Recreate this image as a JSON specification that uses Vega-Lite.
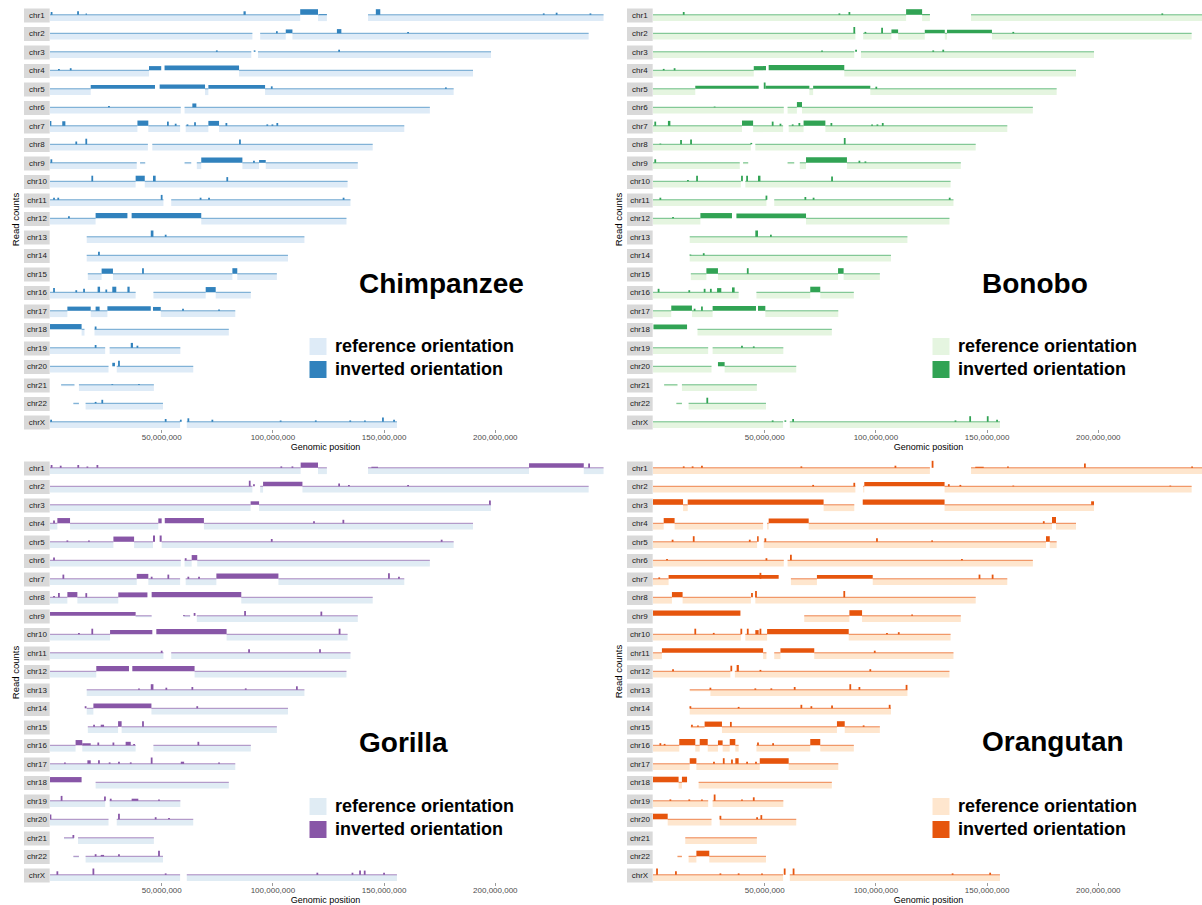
{
"$schema":"https://vega.github.io/schema/vega-lite/v6.json",
"padding":{"left":10,"top":8.5,"right":0,"bottom":0},
"config":{"font":"Liberation Sans","view":{"stroke":null},
 "axisX":{"grid":false,"domain":false,"tickSize":3,"tickColor":"#555","tickWidth":0.6,"labelFontSize":8,"labelColor":"#4d4d4d","labelPadding":1,"titleFontSize":9,"titleFontWeight":"normal","titleColor":"#000","titlePadding":1},
 "header":{"labels":false,"title":"Read counts","titleFontSize":9.5,"titleFontWeight":"normal","titleColor":"#000","titlePadding":-6,"labelPadding":0},
 "legend":{"labelFontSize":18,"labelFontWeight":"bold","labelColor":"#000","labelLimit":0,"symbolType":"square","symbolSize":289,"symbolStrokeWidth":0,"rowPadding":5,"labelOffset":8}},
"datasets":{"d":[
{"p":"C","c":"chr1","t":"r","s":0,"e":112.5,"v":-0.9},{"p":"C","c":"chr1","t":"r","s":120.5,"e":124.5,"v":-0.9},{"p":"C","c":"chr1","t":"r","s":143,"e":248.9,"v":-0.9},
{"p":"C","c":"chr2","t":"r","s":0,"e":91,"v":-0.9},{"p":"C","c":"chr2","t":"r","s":94.5,"e":106,"v":-0.9},{"p":"C","c":"chr2","t":"r","s":109,"e":242.2,"v":-0.9},
{"p":"C","c":"chr3","t":"r","s":0,"e":90.5,"v":-0.9},{"p":"C","c":"chr3","t":"r","s":93.5,"e":198.3,"v":-0.9},
{"p":"C","c":"chr4","t":"r","s":0,"e":44.5,"v":-0.9},{"p":"C","c":"chr4","t":"r","s":85,"e":190.2,"v":-0.9},
{"p":"C","c":"chr5","t":"r","s":0,"e":18.3,"v":-0.9},{"p":"C","c":"chr5","t":"r","s":69.7,"e":71.2,"v":-0.9},{"p":"C","c":"chr5","t":"r","s":96.7,"e":181.5,"v":-0.9},
{"p":"C","c":"chr6","t":"r","s":0,"e":58.8,"v":-0.9},{"p":"C","c":"chr6","t":"r","s":60.5,"e":170.8,"v":-0.9},
{"p":"C","c":"chr7","t":"r","s":0,"e":39.3,"v":-0.9},{"p":"C","c":"chr7","t":"r","s":44.2,"e":58.5,"v":-0.9},{"p":"C","c":"chr7","t":"r","s":61,"e":71.2,"v":-0.9},{"p":"C","c":"chr7","t":"r","s":76,"e":159.3,"v":-0.9},
{"p":"C","c":"chr8","t":"r","s":0,"e":44,"v":-0.9},{"p":"C","c":"chr8","t":"r","s":46,"e":145.1,"v":-0.9},
{"p":"C","c":"chr9","t":"r","s":0,"e":39,"v":-0.9},{"p":"C","c":"chr9","t":"r","s":40.5,"e":42.8,"v":-0.2},{"p":"C","c":"chr9","t":"r","s":60.5,"e":63.5,"v":-0.2},{"p":"C","c":"chr9","t":"r","s":66,"e":68,"v":-0.9},{"p":"C","c":"chr9","t":"r","s":86.5,"e":94,"v":-0.9},{"p":"C","c":"chr9","t":"r","s":97,"e":138.4,"v":-0.9},
{"p":"C","c":"chr10","t":"r","s":0,"e":38.5,"v":-0.9},{"p":"C","c":"chr10","t":"r","s":42.6,"e":133.8,"v":-0.9},
{"p":"C","c":"chr11","t":"r","s":0,"e":51,"v":-0.9},{"p":"C","c":"chr11","t":"r","s":54.5,"e":135.1,"v":-0.9},
{"p":"C","c":"chr12","t":"r","s":0,"e":20.5,"v":-0.9},{"p":"C","c":"chr12","t":"r","s":68,"e":133.3,"v":-0.9},
{"p":"C","c":"chr13","t":"r","s":16.5,"e":114.4,"v":-0.9},
{"p":"C","c":"chr14","t":"r","s":16.5,"e":107,"v":-0.9},
{"p":"C","c":"chr15","t":"r","s":17,"e":23.2,"v":-0.9},{"p":"C","c":"chr15","t":"r","s":28.3,"e":82,"v":-0.9},{"p":"C","c":"chr15","t":"r","s":84.2,"e":102,"v":-0.9},
{"p":"C","c":"chr16","t":"r","s":0,"e":38.5,"v":-0.9},{"p":"C","c":"chr16","t":"r","s":46.5,"e":70,"v":-0.9},{"p":"C","c":"chr16","t":"r","s":74.5,"e":90.3,"v":-0.9},
{"p":"C","c":"chr17","t":"r","s":0,"e":7.8,"v":-0.9},{"p":"C","c":"chr17","t":"r","s":18.3,"e":25.8,"v":-0.9},{"p":"C","c":"chr17","t":"r","s":49.8,"e":83.3,"v":-0.9},
{"p":"C","c":"chr18","t":"r","s":14.2,"e":15.5,"v":-0.9},{"p":"C","c":"chr18","t":"r","s":20,"e":80.4,"v":-0.9},
{"p":"C","c":"chr19","t":"r","s":0,"e":24.8,"v":-0.9},{"p":"C","c":"chr19","t":"r","s":26.8,"e":58.6,"v":-0.9},
{"p":"C","c":"chr20","t":"r","s":0,"e":26.3,"v":-0.9},{"p":"C","c":"chr20","t":"r","s":30,"e":64.4,"v":-0.9},
{"p":"C","c":"chr21","t":"r","s":5,"e":11,"v":-0.2},{"p":"C","c":"chr21","t":"r","s":13,"e":46.7,"v":-0.9},
{"p":"C","c":"chr22","t":"r","s":10.5,"e":13,"v":-0.2},{"p":"C","c":"chr22","t":"r","s":16,"e":50.8,"v":-0.9},
{"p":"C","c":"chrX","t":"r","s":0,"e":58.5,"v":-0.9},{"p":"C","c":"chrX","t":"r","s":61.5,"e":156,"v":-0.9},
{"p":"C","c":"chr1","t":"i","s":0.3,"e":1.1,"v":0.4},{"p":"C","c":"chr1","t":"i","s":12.2,"e":13,"v":0.5},{"p":"C","c":"chr1","t":"i","s":16,"e":16.6,"v":0.2},{"p":"C","c":"chr1","t":"i","s":87,"e":88,"v":0.5},{"p":"C","c":"chr1","t":"i","s":112.5,"e":120.5,"v":0.8},{"p":"C","c":"chr1","t":"i","s":121,"e":124.5,"v":0.1},{"p":"C","c":"chr1","t":"i","s":146.5,"e":148.5,"v":0.8},{"p":"C","c":"chr1","t":"i","s":221.6,"e":222.4,"v":0.2},{"p":"C","c":"chr1","t":"i","s":227.4,"e":228.2,"v":0.3},{"p":"C","c":"chr1","t":"i","s":242.6,"e":243.4,"v":0.2},
{"p":"C","c":"chr2","t":"i","s":101.6,"e":102.4,"v":0.3},{"p":"C","c":"chr2","t":"i","s":106,"e":109,"v":0.55},{"p":"C","c":"chr2","t":"i","s":129,"e":131,"v":0.6},{"p":"C","c":"chr2","t":"i","s":160.6,"e":161.4,"v":0.2},
{"p":"C","c":"chr3","t":"i","s":74.6,"e":75.4,"v":0.2},{"p":"C","c":"chr3","t":"i","s":91.6,"e":92.4,"v":0.2},{"p":"C","c":"chr3","t":"i","s":129.6,"e":130.4,"v":0.3},
{"p":"C","c":"chr4","t":"i","s":3.6,"e":4.4,"v":0.2},{"p":"C","c":"chr4","t":"i","s":8.9,"e":9.7,"v":0.3},{"p":"C","c":"chr4","t":"i","s":44.5,"e":50,"v":0.6},{"p":"C","c":"chr4","t":"i","s":51.5,"e":85,"v":0.7},
{"p":"C","c":"chr5","t":"i","s":18.3,"e":47.2,"v":0.55},{"p":"C","c":"chr5","t":"i","s":49.3,"e":69.7,"v":0.6},{"p":"C","c":"chr5","t":"i","s":71.2,"e":96.7,"v":0.55},{"p":"C","c":"chr5","t":"i","s":99.3,"e":100.1,"v":0.35},{"p":"C","c":"chr5","t":"i","s":177.6,"e":178.4,"v":0.2},
{"p":"C","c":"chr6","t":"i","s":26.1,"e":26.9,"v":0.2},{"p":"C","c":"chr6","t":"i","s":64,"e":65.8,"v":0.55},
{"p":"C","c":"chr7","t":"i","s":0,"e":0.6,"v":0.7},{"p":"C","c":"chr7","t":"i","s":5.5,"e":6.9,"v":0.65},{"p":"C","c":"chr7","t":"i","s":39.3,"e":44.2,"v":0.75},{"p":"C","c":"chr7","t":"i","s":52.6,"e":53.4,"v":0.6},{"p":"C","c":"chr7","t":"i","s":56.1,"e":56.9,"v":0.3},{"p":"C","c":"chr7","t":"i","s":61.4,"e":62.2,"v":0.2},{"p":"C","c":"chr7","t":"i","s":64.8,"e":65.6,"v":0.5},{"p":"C","c":"chr7","t":"i","s":71.2,"e":76,"v":0.7},{"p":"C","c":"chr7","t":"i","s":78.9,"e":79.7,"v":0.4},{"p":"C","c":"chr7","t":"i","s":97.3,"e":98.1,"v":0.2},{"p":"C","c":"chr7","t":"i","s":99.6,"e":100.4,"v":0.2},{"p":"C","c":"chr7","t":"i","s":101.8,"e":102.6,"v":0.4},
{"p":"C","c":"chr8","t":"i","s":11.4,"e":12.2,"v":0.4},{"p":"C","c":"chr8","t":"i","s":15.9,"e":16.7,"v":0.8},{"p":"C","c":"chr8","t":"i","s":85,"e":85.8,"v":0.7},
{"p":"C","c":"chr9","t":"i","s":0.2,"e":1,"v":0.5},{"p":"C","c":"chr9","t":"i","s":68,"e":86.5,"v":0.75},{"p":"C","c":"chr9","t":"i","s":91.3,"e":92.1,"v":0.3},{"p":"C","c":"chr9","t":"i","s":94,"e":97,"v":0.4},
{"p":"C","c":"chr10","t":"i","s":18.6,"e":19.4,"v":0.8},{"p":"C","c":"chr10","t":"i","s":38.5,"e":42.6,"v":0.8},{"p":"C","c":"chr10","t":"i","s":46.3,"e":47.5,"v":0.8},{"p":"C","c":"chr10","t":"i","s":79.3,"e":80.1,"v":0.6},
{"p":"C","c":"chr11","t":"i","s":1.4,"e":2.2,"v":0.3},{"p":"C","c":"chr11","t":"i","s":3.3,"e":4.1,"v":0.3},{"p":"C","c":"chr11","t":"i","s":49.8,"e":50.6,"v":0.7},{"p":"C","c":"chr11","t":"i","s":67.3,"e":68.1,"v":0.3},{"p":"C","c":"chr11","t":"i","s":71.1,"e":71.9,"v":0.3},{"p":"C","c":"chr11","t":"i","s":131.6,"e":132.4,"v":0.3},
{"p":"C","c":"chr12","t":"i","s":8.1,"e":8.9,"v":0.3},{"p":"C","c":"chr12","t":"i","s":20.5,"e":34.8,"v":0.75},{"p":"C","c":"chr12","t":"i","s":36.7,"e":68,"v":0.75},
{"p":"C","c":"chr13","t":"i","s":45.3,"e":46.5,"v":0.9},{"p":"C","c":"chr13","t":"i","s":51.6,"e":52.4,"v":0.3},
{"p":"C","c":"chr14","t":"i","s":21.6,"e":22.4,"v":0.5},
{"p":"C","c":"chr15","t":"i","s":23.2,"e":28.3,"v":0.75},{"p":"C","c":"chr15","t":"i","s":41.4,"e":42.2,"v":0.8},{"p":"C","c":"chr15","t":"i","s":82,"e":84.2,"v":0.8},
{"p":"C","c":"chr16","t":"i","s":1.4,"e":2.2,"v":0.6},{"p":"C","c":"chr16","t":"i","s":11.4,"e":12.2,"v":0.3},{"p":"C","c":"chr16","t":"i","s":14.9,"e":15.7,"v":0.5},{"p":"C","c":"chr16","t":"i","s":21.4,"e":22.5,"v":0.8},{"p":"C","c":"chr16","t":"i","s":24.9,"e":25.7,"v":0.4},{"p":"C","c":"chr16","t":"i","s":28,"e":29.8,"v":0.8},{"p":"C","c":"chr16","t":"i","s":34.8,"e":35.8,"v":0.8},{"p":"C","c":"chr16","t":"i","s":70,"e":74.5,"v":0.75},
{"p":"C","c":"chr17","t":"i","s":7.8,"e":18.3,"v":0.6},{"p":"C","c":"chr17","t":"i","s":20.5,"e":22.3,"v":0.6},{"p":"C","c":"chr17","t":"i","s":25.8,"e":45.3,"v":0.65},{"p":"C","c":"chr17","t":"i","s":46.3,"e":49.8,"v":0.55},{"p":"C","c":"chr17","t":"i","s":59.4,"e":60.2,"v":0.3},{"p":"C","c":"chr17","t":"i","s":75.6,"e":76.4,"v":0.2},
{"p":"C","c":"chr18","t":"i","s":0,"e":14.2,"v":0.75},{"p":"C","c":"chr18","t":"i","s":20.1,"e":20.9,"v":0.4},
{"p":"C","c":"chr19","t":"i","s":20.1,"e":20.9,"v":0.4},{"p":"C","c":"chr19","t":"i","s":36.3,"e":37.3,"v":0.7},{"p":"C","c":"chr19","t":"i","s":38.9,"e":39.7,"v":0.3},
{"p":"C","c":"chr20","t":"i","s":28,"e":29.2,"v":0.5},{"p":"C","c":"chr20","t":"i","s":30.6,"e":31.4,"v":0.8},
{"p":"C","c":"chr21","t":"i","s":27.6,"e":28.4,"v":0.1},{"p":"C","c":"chr21","t":"i","s":39.6,"e":40.4,"v":0.1},
{"p":"C","c":"chr22","t":"i","s":20.1,"e":20.9,"v":0.2},{"p":"C","c":"chr22","t":"i","s":23.1,"e":23.9,"v":0.5},
{"p":"C","c":"chrX","t":"i","s":0.1,"e":0.9,"v":0.3},{"p":"C","c":"chrX","t":"i","s":51.6,"e":52.4,"v":0.4},{"p":"C","c":"chrX","t":"i","s":58.4,"e":59.2,"v":0.3},{"p":"C","c":"chrX","t":"i","s":61.8,"e":62.6,"v":0.5},{"p":"C","c":"chrX","t":"i","s":72.6,"e":73.4,"v":0.3},{"p":"C","c":"chrX","t":"i","s":103.3,"e":104.1,"v":0.2},{"p":"C","c":"chrX","t":"i","s":119.1,"e":119.9,"v":0.2},{"p":"C","c":"chrX","t":"i","s":134.6,"e":135.4,"v":0.2},{"p":"C","c":"chrX","t":"i","s":141.2,"e":142,"v":0.2},{"p":"C","c":"chrX","t":"i","s":149.3,"e":150.1,"v":0.6},{"p":"C","c":"chrX","t":"i","s":154.3,"e":155.1,"v":0.3},

{"p":"B","c":"chr1","t":"r","s":0,"e":113.8,"v":-0.9},{"p":"B","c":"chr1","t":"r","s":121,"e":124.5,"v":-0.9},{"p":"B","c":"chr1","t":"r","s":143,"e":248.9,"v":-0.9},
{"p":"B","c":"chr2","t":"r","s":0,"e":91,"v":-0.9},{"p":"B","c":"chr2","t":"r","s":94.5,"e":107.2,"v":-0.9},{"p":"B","c":"chr2","t":"r","s":110.2,"e":122.2,"v":-0.9},{"p":"B","c":"chr2","t":"r","s":131.2,"e":132.2,"v":-0.9},{"p":"B","c":"chr2","t":"r","s":152.4,"e":242.2,"v":-0.9},
{"p":"B","c":"chr3","t":"r","s":0,"e":90.5,"v":-0.9},{"p":"B","c":"chr3","t":"r","s":93.5,"e":198.3,"v":-0.9},
{"p":"B","c":"chr4","t":"r","s":0,"e":45.3,"v":-0.9},{"p":"B","c":"chr4","t":"r","s":86,"e":190.2,"v":-0.9},
{"p":"B","c":"chr5","t":"r","s":0,"e":19,"v":-0.9},{"p":"B","c":"chr5","t":"r","s":70.3,"e":72,"v":-0.9},{"p":"B","c":"chr5","t":"r","s":97.7,"e":181.5,"v":-0.9},
{"p":"B","c":"chr6","t":"r","s":0,"e":58.8,"v":-0.9},{"p":"B","c":"chr6","t":"r","s":60.5,"e":64.7,"v":-0.9},{"p":"B","c":"chr6","t":"r","s":67,"e":170.8,"v":-0.9},
{"p":"B","c":"chr7","t":"r","s":0,"e":40,"v":-0.9},{"p":"B","c":"chr7","t":"r","s":45,"e":58.5,"v":-0.9},{"p":"B","c":"chr7","t":"r","s":61,"e":67.7,"v":-0.9},{"p":"B","c":"chr7","t":"r","s":77.5,"e":159.3,"v":-0.9},
{"p":"B","c":"chr8","t":"r","s":0,"e":44,"v":-0.9},{"p":"B","c":"chr8","t":"r","s":46,"e":145.1,"v":-0.9},
{"p":"B","c":"chr9","t":"r","s":0,"e":39,"v":-0.9},{"p":"B","c":"chr9","t":"r","s":40.5,"e":42.8,"v":-0.2},{"p":"B","c":"chr9","t":"r","s":60.5,"e":63.5,"v":-0.2},{"p":"B","c":"chr9","t":"r","s":66,"e":68.8,"v":-0.9},{"p":"B","c":"chr9","t":"r","s":87.2,"e":138.4,"v":-0.9},
{"p":"B","c":"chr10","t":"r","s":0,"e":39.5,"v":-0.9},{"p":"B","c":"chr10","t":"r","s":41.5,"e":133.8,"v":-0.9},
{"p":"B","c":"chr11","t":"r","s":0,"e":51,"v":-0.9},{"p":"B","c":"chr11","t":"r","s":54.5,"e":135.1,"v":-0.9},
{"p":"B","c":"chr12","t":"r","s":0,"e":21.3,"v":-0.9},{"p":"B","c":"chr12","t":"r","s":68.8,"e":133.3,"v":-0.9},
{"p":"B","c":"chr13","t":"r","s":16.5,"e":114.4,"v":-0.9},
{"p":"B","c":"chr14","t":"r","s":16.5,"e":107,"v":-0.9},
{"p":"B","c":"chr15","t":"r","s":17,"e":24,"v":-0.9},{"p":"B","c":"chr15","t":"r","s":29.2,"e":83.2,"v":-0.9},{"p":"B","c":"chr15","t":"r","s":85.7,"e":102,"v":-0.9},
{"p":"B","c":"chr16","t":"r","s":0,"e":38.5,"v":-0.9},{"p":"B","c":"chr16","t":"r","s":46.5,"e":70.7,"v":-0.9},{"p":"B","c":"chr16","t":"r","s":75.2,"e":90.3,"v":-0.9},
{"p":"B","c":"chr17","t":"r","s":0,"e":8.2,"v":-0.9},{"p":"B","c":"chr17","t":"r","s":17.5,"e":26.8,"v":-0.9},{"p":"B","c":"chr17","t":"r","s":50.5,"e":83.3,"v":-0.9},
{"p":"B","c":"chr18","t":"r","s":20,"e":80.4,"v":-0.9},
{"p":"B","c":"chr19","t":"r","s":0,"e":24.8,"v":-0.9},{"p":"B","c":"chr19","t":"r","s":26.8,"e":58.6,"v":-0.9},
{"p":"B","c":"chr20","t":"r","s":0,"e":26.3,"v":-0.9},{"p":"B","c":"chr20","t":"r","s":32.2,"e":64.4,"v":-0.9},
{"p":"B","c":"chr21","t":"r","s":5,"e":11,"v":-0.2},{"p":"B","c":"chr21","t":"r","s":13,"e":46.7,"v":-0.9},
{"p":"B","c":"chr22","t":"r","s":10.5,"e":13,"v":-0.2},{"p":"B","c":"chr22","t":"r","s":16,"e":50.8,"v":-0.9},
{"p":"B","c":"chrX","t":"r","s":0,"e":58.5,"v":-0.9},{"p":"B","c":"chrX","t":"r","s":61.5,"e":156,"v":-0.9},
{"p":"B","c":"chr1","t":"i","s":13.4,"e":14.2,"v":0.4},{"p":"B","c":"chr1","t":"i","s":83.4,"e":84.2,"v":0.2},{"p":"B","c":"chr1","t":"i","s":87.9,"e":88.7,"v":0.4},{"p":"B","c":"chr1","t":"i","s":113.8,"e":121,"v":0.8},{"p":"B","c":"chr1","t":"i","s":121,"e":124.5,"v":0.1},{"p":"B","c":"chr1","t":"i","s":228.6,"e":229.4,"v":0.2},
{"p":"B","c":"chr2","t":"i","s":90.1,"e":90.9,"v":0.9},{"p":"B","c":"chr2","t":"i","s":95.1,"e":95.9,"v":0.2},{"p":"B","c":"chr2","t":"i","s":102.6,"e":103.4,"v":0.8},{"p":"B","c":"chr2","t":"i","s":107.2,"e":110.2,"v":0.55},{"p":"B","c":"chr2","t":"i","s":122.2,"e":131.2,"v":0.5},{"p":"B","c":"chr2","t":"i","s":132.2,"e":152.4,"v":0.5},{"p":"B","c":"chr2","t":"i","s":161.6,"e":162.4,"v":0.2},
{"p":"B","c":"chr3","t":"i","s":75.6,"e":76.4,"v":0.2},{"p":"B","c":"chr3","t":"i","s":90.9,"e":91.7,"v":0.3},{"p":"B","c":"chr3","t":"i","s":125.6,"e":126.4,"v":0.2},{"p":"B","c":"chr3","t":"i","s":130.1,"e":130.9,"v":0.3},
{"p":"B","c":"chr4","t":"i","s":4.4,"e":5.2,"v":0.2},{"p":"B","c":"chr4","t":"i","s":9.3,"e":10.1,"v":0.3},{"p":"B","c":"chr4","t":"i","s":45.3,"e":50.8,"v":0.6},{"p":"B","c":"chr4","t":"i","s":52,"e":86,"v":0.75},
{"p":"B","c":"chr5","t":"i","s":19,"e":47.5,"v":0.45},{"p":"B","c":"chr5","t":"i","s":49.8,"e":50.6,"v":0.9},{"p":"B","c":"chr5","t":"i","s":50.6,"e":70.3,"v":0.45},{"p":"B","c":"chr5","t":"i","s":72,"e":97.7,"v":0.45},{"p":"B","c":"chr5","t":"i","s":100,"e":100.8,"v":0.3},
{"p":"B","c":"chr6","t":"i","s":27.3,"e":28.1,"v":0.1},{"p":"B","c":"chr6","t":"i","s":64.7,"e":67,"v":0.75},
{"p":"B","c":"chr7","t":"i","s":0.6,"e":1.4,"v":0.6},{"p":"B","c":"chr7","t":"i","s":6.7,"e":7.8,"v":0.7},{"p":"B","c":"chr7","t":"i","s":40,"e":45,"v":0.75},{"p":"B","c":"chr7","t":"i","s":53.4,"e":54.2,"v":0.6},{"p":"B","c":"chr7","t":"i","s":56.9,"e":57.7,"v":0.3},{"p":"B","c":"chr7","t":"i","s":62.4,"e":63.2,"v":0.2},{"p":"B","c":"chr7","t":"i","s":65.4,"e":66.2,"v":0.4},{"p":"B","c":"chr7","t":"i","s":67.7,"e":77.5,"v":0.75},{"p":"B","c":"chr7","t":"i","s":79.8,"e":80.6,"v":0.4},{"p":"B","c":"chr7","t":"i","s":98.1,"e":98.9,"v":0.2},{"p":"B","c":"chr7","t":"i","s":100.5,"e":101.3,"v":0.2},{"p":"B","c":"chr7","t":"i","s":102.9,"e":103.7,"v":0.4},
{"p":"B","c":"chr8","t":"i","s":2.9,"e":3.7,"v":0.1},{"p":"B","c":"chr8","t":"i","s":12.2,"e":13,"v":0.6},{"p":"B","c":"chr8","t":"i","s":16.7,"e":17.5,"v":0.7},{"p":"B","c":"chr8","t":"i","s":43.8,"e":44.6,"v":0.2},{"p":"B","c":"chr8","t":"i","s":85.8,"e":86.6,"v":0.9},
{"p":"B","c":"chr9","t":"i","s":0.6,"e":1.4,"v":0.5},{"p":"B","c":"chr9","t":"i","s":68.8,"e":87.2,"v":0.8},{"p":"B","c":"chr9","t":"i","s":92.4,"e":93.2,"v":0.3},{"p":"B","c":"chr9","t":"i","s":95.1,"e":95.9,"v":0.2},
{"p":"B","c":"chr10","t":"i","s":15.3,"e":16.1,"v":0.2},{"p":"B","c":"chr10","t":"i","s":19.4,"e":20.2,"v":0.8},{"p":"B","c":"chr10","t":"i","s":39.6,"e":40.4,"v":0.8},{"p":"B","c":"chr10","t":"i","s":41.9,"e":42.7,"v":0.8},{"p":"B","c":"chr10","t":"i","s":47.2,"e":48.3,"v":0.8},{"p":"B","c":"chr10","t":"i","s":80.1,"e":80.9,"v":0.7},
{"p":"B","c":"chr11","t":"i","s":2.9,"e":3.7,"v":0.3},{"p":"B","c":"chr11","t":"i","s":50.6,"e":51.4,"v":0.6},{"p":"B","c":"chr11","t":"i","s":68.1,"e":68.9,"v":0.4},{"p":"B","c":"chr11","t":"i","s":71.8,"e":72.6,"v":0.3},{"p":"B","c":"chr11","t":"i","s":133,"e":133.8,"v":0.3},
{"p":"B","c":"chr12","t":"i","s":8.6,"e":9.4,"v":0.2},{"p":"B","c":"chr12","t":"i","s":21.3,"e":35.5,"v":0.75},{"p":"B","c":"chr12","t":"i","s":37.5,"e":68.8,"v":0.7},
{"p":"B","c":"chr13","t":"i","s":46,"e":47.2,"v":0.9},{"p":"B","c":"chr13","t":"i","s":52.6,"e":53.4,"v":0.3},
{"p":"B","c":"chr14","t":"i","s":16.4,"e":17.2,"v":0.1},{"p":"B","c":"chr14","t":"i","s":22.4,"e":23.2,"v":0.3},
{"p":"B","c":"chr15","t":"i","s":24,"e":29.2,"v":0.8},{"p":"B","c":"chr15","t":"i","s":42.2,"e":43,"v":0.8},{"p":"B","c":"chr15","t":"i","s":83.2,"e":85.7,"v":0.8},
{"p":"B","c":"chr16","t":"i","s":2.1,"e":2.9,"v":0.5},{"p":"B","c":"chr16","t":"i","s":15.9,"e":16.7,"v":0.3},{"p":"B","c":"chr16","t":"i","s":22.8,"e":23.6,"v":0.5},{"p":"B","c":"chr16","t":"i","s":25.6,"e":26.4,"v":0.5},{"p":"B","c":"chr16","t":"i","s":28.8,"e":30.7,"v":0.6},{"p":"B","c":"chr16","t":"i","s":35.5,"e":36.7,"v":0.7},{"p":"B","c":"chr16","t":"i","s":70.7,"e":75.2,"v":0.8},
{"p":"B","c":"chr17","t":"i","s":8.2,"e":17.5,"v":0.75},{"p":"B","c":"chr17","t":"i","s":18.3,"e":19.1,"v":0.3},{"p":"B","c":"chr17","t":"i","s":21.6,"e":22.4,"v":0.6},{"p":"B","c":"chr17","t":"i","s":26.8,"e":46.3,"v":0.7},{"p":"B","c":"chr17","t":"i","s":47.2,"e":50.5,"v":0.7},
{"p":"B","c":"chr18","t":"i","s":0.2,"e":15.3,"v":0.7},
{"p":"B","c":"chr19","t":"i","s":39.6,"e":40.4,"v":0.3},{"p":"B","c":"chr19","t":"i","s":44.9,"e":45.7,"v":0.2},
{"p":"B","c":"chr20","t":"i","s":29.2,"e":32.2,"v":0.6},
{"p":"B","c":"chr22","t":"i","s":24,"e":24.8,"v":0.8},
{"p":"B","c":"chrX","t":"i","s":53.4,"e":54.2,"v":0.2},{"p":"B","c":"chrX","t":"i","s":59.1,"e":59.9,"v":0.2},{"p":"B","c":"chrX","t":"i","s":62.6,"e":63.4,"v":0.4},{"p":"B","c":"chrX","t":"i","s":135.6,"e":136.4,"v":0.2},{"p":"B","c":"chrX","t":"i","s":142.2,"e":143,"v":0.8},{"p":"B","c":"chrX","t":"i","s":150.1,"e":150.9,"v":0.8},{"p":"B","c":"chrX","t":"i","s":154.3,"e":155.1,"v":0.3},

{"p":"G","c":"chr1","t":"r","s":0,"e":112.7,"v":-0.9},{"p":"G","c":"chr1","t":"r","s":120.5,"e":124.5,"v":-0.9},{"p":"G","c":"chr1","t":"r","s":143,"e":215.4,"v":-0.9},{"p":"G","c":"chr1","t":"r","s":240,"e":248.9,"v":-0.9},
{"p":"G","c":"chr2","t":"r","s":0,"e":91,"v":-0.9},{"p":"G","c":"chr2","t":"r","s":94.5,"e":95.8,"v":-0.9},{"p":"G","c":"chr2","t":"r","s":113.5,"e":242.2,"v":-0.9},
{"p":"G","c":"chr3","t":"r","s":0,"e":90.2,"v":-0.9},{"p":"G","c":"chr3","t":"r","s":94,"e":198.3,"v":-0.9},
{"p":"G","c":"chr4","t":"r","s":0,"e":3.3,"v":-0.9},{"p":"G","c":"chr4","t":"r","s":9,"e":48.7,"v":-0.9},{"p":"G","c":"chr4","t":"r","s":69.2,"e":190.2,"v":-0.9},
{"p":"G","c":"chr5","t":"r","s":0,"e":28.5,"v":-0.9},{"p":"G","c":"chr5","t":"r","s":37.8,"e":46.3,"v":-0.9},{"p":"G","c":"chr5","t":"r","s":50.2,"e":181.5,"v":-0.9},
{"p":"G","c":"chr6","t":"r","s":0,"e":58.8,"v":-0.9},{"p":"G","c":"chr6","t":"r","s":60.5,"e":63.7,"v":-0.9},{"p":"G","c":"chr6","t":"r","s":66.2,"e":170.8,"v":-0.9},
{"p":"G","c":"chr7","t":"r","s":0,"e":39,"v":-0.9},{"p":"G","c":"chr7","t":"r","s":44.2,"e":58.5,"v":-0.9},{"p":"G","c":"chr7","t":"r","s":61,"e":74.8,"v":-0.9},{"p":"G","c":"chr7","t":"r","s":102.7,"e":159.3,"v":-0.9},
{"p":"G","c":"chr8","t":"r","s":0,"e":7.8,"v":-0.9},{"p":"G","c":"chr8","t":"r","s":12.3,"e":30.7,"v":-0.9},{"p":"G","c":"chr8","t":"r","s":86,"e":145.1,"v":-0.9},
{"p":"G","c":"chr9","t":"r","s":38.5,"e":45.7,"v":-0.2},{"p":"G","c":"chr9","t":"r","s":60,"e":63,"v":-0.2},{"p":"G","c":"chr9","t":"r","s":66,"e":138.4,"v":-0.9},
{"p":"G","c":"chr10","t":"r","s":0,"e":27,"v":-0.9},{"p":"G","c":"chr10","t":"r","s":79.4,"e":133.8,"v":-0.9},
{"p":"G","c":"chr11","t":"r","s":0,"e":51,"v":-0.9},{"p":"G","c":"chr11","t":"r","s":54.5,"e":135.1,"v":-0.9},
{"p":"G","c":"chr12","t":"r","s":0,"e":20.8,"v":-0.9},{"p":"G","c":"chr12","t":"r","s":65,"e":133.3,"v":-0.9},
{"p":"G","c":"chr13","t":"r","s":16.5,"e":114.4,"v":-0.9},
{"p":"G","c":"chr14","t":"r","s":16.5,"e":19.5,"v":-0.9},{"p":"G","c":"chr14","t":"r","s":45.6,"e":107,"v":-0.9},
{"p":"G","c":"chr15","t":"r","s":17,"e":30.6,"v":-0.9},{"p":"G","c":"chr15","t":"r","s":32.2,"e":102,"v":-0.9},
{"p":"G","c":"chr16","t":"r","s":0,"e":11.5,"v":-0.9},{"p":"G","c":"chr16","t":"r","s":14.5,"e":38.5,"v":-0.9},{"p":"G","c":"chr16","t":"r","s":46.5,"e":90.3,"v":-0.9},
{"p":"G","c":"chr17","t":"r","s":0,"e":83.3,"v":-0.9},
{"p":"G","c":"chr18","t":"r","s":20.5,"e":80.4,"v":-0.9},
{"p":"G","c":"chr19","t":"r","s":0,"e":24.8,"v":-0.9},{"p":"G","c":"chr19","t":"r","s":26.8,"e":58.6,"v":-0.9},
{"p":"G","c":"chr20","t":"r","s":0,"e":26.3,"v":-0.9},{"p":"G","c":"chr20","t":"r","s":30,"e":64.4,"v":-0.9},
{"p":"G","c":"chr21","t":"r","s":6.3,"e":10.8,"v":-0.2},{"p":"G","c":"chr21","t":"r","s":12.6,"e":46.7,"v":-0.9},
{"p":"G","c":"chr22","t":"r","s":10.5,"e":13,"v":-0.2},{"p":"G","c":"chr22","t":"r","s":16,"e":50.8,"v":-0.9},
{"p":"G","c":"chrX","t":"r","s":0,"e":58.5,"v":-0.9},{"p":"G","c":"chrX","t":"r","s":61.5,"e":156,"v":-0.9},
{"p":"G","c":"chr1","t":"i","s":0.3,"e":1.1,"v":0.4},{"p":"G","c":"chr1","t":"i","s":4.4,"e":5.2,"v":0.3},{"p":"G","c":"chr1","t":"i","s":12.3,"e":13.1,"v":0.4},{"p":"G","c":"chr1","t":"i","s":16.4,"e":17.2,"v":0.2},{"p":"G","c":"chr1","t":"i","s":20.9,"e":21.7,"v":0.4},{"p":"G","c":"chr1","t":"i","s":103.6,"e":104.4,"v":0.2},{"p":"G","c":"chr1","t":"i","s":108.6,"e":109.4,"v":0.2},{"p":"G","c":"chr1","t":"i","s":112.7,"e":120.5,"v":0.75},{"p":"G","c":"chr1","t":"i","s":144.5,"e":147.5,"v":0.15},{"p":"G","c":"chr1","t":"i","s":215.4,"e":240,"v":0.65},{"p":"G","c":"chr1","t":"i","s":242,"e":242.8,"v":0.6},
{"p":"G","c":"chr2","t":"i","s":89.4,"e":90.2,"v":0.8},{"p":"G","c":"chr2","t":"i","s":91.3,"e":92.1,"v":0.3},{"p":"G","c":"chr2","t":"i","s":95.8,"e":113.5,"v":0.65},{"p":"G","c":"chr2","t":"i","s":129.6,"e":130.4,"v":0.4},{"p":"G","c":"chr2","t":"i","s":134,"e":134.8,"v":0.2},{"p":"G","c":"chr2","t":"i","s":160.6,"e":161.4,"v":0.2},
{"p":"G","c":"chr3","t":"i","s":90.2,"e":94,"v":0.5},{"p":"G","c":"chr3","t":"i","s":197.4,"e":198.2,"v":0.6},
{"p":"G","c":"chr4","t":"i","s":1.4,"e":2.2,"v":0.4},{"p":"G","c":"chr4","t":"i","s":3.3,"e":9,"v":0.75},{"p":"G","c":"chr4","t":"i","s":48.7,"e":50.2,"v":0.7},{"p":"G","c":"chr4","t":"i","s":51.6,"e":69.2,"v":0.75},{"p":"G","c":"chr4","t":"i","s":118.3,"e":119.1,"v":0.3},{"p":"G","c":"chr4","t":"i","s":131.5,"e":132.3,"v":0.5},
{"p":"G","c":"chr5","t":"i","s":7.4,"e":8.2,"v":0.2},{"p":"G","c":"chr5","t":"i","s":17.1,"e":17.9,"v":0.2},{"p":"G","c":"chr5","t":"i","s":28.5,"e":37.8,"v":0.75},{"p":"G","c":"chr5","t":"i","s":46.3,"e":47.2,"v":0.9},{"p":"G","c":"chr5","t":"i","s":49.3,"e":50.2,"v":0.9},{"p":"G","c":"chr5","t":"i","s":99.3,"e":100.1,"v":0.4},{"p":"G","c":"chr5","t":"i","s":175.7,"e":176.5,"v":0.3},
{"p":"G","c":"chr6","t":"i","s":1.4,"e":2.2,"v":0.4},{"p":"G","c":"chr6","t":"i","s":60.6,"e":61.4,"v":0.3},{"p":"G","c":"chr6","t":"i","s":63.7,"e":66.2,"v":0.75},
{"p":"G","c":"chr7","t":"i","s":5.6,"e":6.4,"v":0.6},{"p":"G","c":"chr7","t":"i","s":39,"e":44.2,"v":0.7},{"p":"G","c":"chr7","t":"i","s":45.3,"e":46.1,"v":0.3},{"p":"G","c":"chr7","t":"i","s":52.8,"e":53.6,"v":0.6},{"p":"G","c":"chr7","t":"i","s":61.8,"e":62.6,"v":0.3},{"p":"G","c":"chr7","t":"i","s":66.6,"e":67.4,"v":0.3},{"p":"G","c":"chr7","t":"i","s":74.8,"e":102.7,"v":0.75},{"p":"G","c":"chr7","t":"i","s":152,"e":152.8,"v":0.8},{"p":"G","c":"chr7","t":"i","s":156.5,"e":157.3,"v":0.3},
{"p":"G","c":"chr8","t":"i","s":1.4,"e":2.2,"v":0.2},{"p":"G","c":"chr8","t":"i","s":3.6,"e":4.4,"v":0.6},{"p":"G","c":"chr8","t":"i","s":7.8,"e":12.3,"v":0.75},{"p":"G","c":"chr8","t":"i","s":15.9,"e":16.7,"v":0.6},{"p":"G","c":"chr8","t":"i","s":30.7,"e":43.8,"v":0.7},{"p":"G","c":"chr8","t":"i","s":45.7,"e":86,"v":0.75},
{"p":"G","c":"chr9","t":"i","s":0,"e":38.5,"v":0.55},{"p":"G","c":"chr9","t":"i","s":59.8,"e":60.6,"v":0.1},{"p":"G","c":"chr9","t":"i","s":64.6,"e":65.4,"v":0.4},{"p":"G","c":"chr9","t":"i","s":87.3,"e":88.1,"v":0.7},{"p":"G","c":"chr9","t":"i","s":121.6,"e":122.4,"v":0.6},
{"p":"G","c":"chr10","t":"i","s":12.6,"e":13.4,"v":0.2},{"p":"G","c":"chr10","t":"i","s":18.6,"e":19.4,"v":0.8},{"p":"G","c":"chr10","t":"i","s":27,"e":46,"v":0.6},{"p":"G","c":"chr10","t":"i","s":47.8,"e":79.4,"v":0.75},{"p":"G","c":"chr10","t":"i","s":129.8,"e":130.6,"v":0.8},
{"p":"G","c":"chr11","t":"i","s":49.8,"e":50.6,"v":0.3},{"p":"G","c":"chr11","t":"i","s":89.1,"e":89.9,"v":0.5},{"p":"G","c":"chr11","t":"i","s":121,"e":121.8,"v":0.5},
{"p":"G","c":"chr12","t":"i","s":20.8,"e":35.5,"v":0.75},{"p":"G","c":"chr12","t":"i","s":37,"e":65,"v":0.75},
{"p":"G","c":"chr13","t":"i","s":39.6,"e":40.4,"v":0.2},{"p":"G","c":"chr13","t":"i","s":45.3,"e":46.5,"v":0.8},{"p":"G","c":"chr13","t":"i","s":51.9,"e":52.7,"v":0.3},{"p":"G","c":"chr13","t":"i","s":63.6,"e":64.4,"v":0.4},{"p":"G","c":"chr13","t":"i","s":87.6,"e":88.4,"v":0.2},{"p":"G","c":"chr13","t":"i","s":110.6,"e":111.4,"v":0.5},
{"p":"G","c":"chr14","t":"i","s":15.6,"e":16.4,"v":0.3},{"p":"G","c":"chr14","t":"i","s":19.5,"e":45.6,"v":0.7},{"p":"G","c":"chr14","t":"i","s":65.8,"e":66.6,"v":0.3},
{"p":"G","c":"chr15","t":"i","s":19.4,"e":20.2,"v":0.3},{"p":"G","c":"chr15","t":"i","s":22.8,"e":24.3,"v":0.3},{"p":"G","c":"chr15","t":"i","s":30.6,"e":32.2,"v":0.8},{"p":"G","c":"chr15","t":"i","s":41.4,"e":42.2,"v":0.8},
{"p":"G","c":"chr16","t":"i","s":11.5,"e":14.5,"v":0.75},{"p":"G","c":"chr16","t":"i","s":14.5,"e":18.3,"v":0.3},{"p":"G","c":"chr16","t":"i","s":21.3,"e":22.1,"v":0.4},{"p":"G","c":"chr16","t":"i","s":28.1,"e":28.9,"v":0.4},{"p":"G","c":"chr16","t":"i","s":34,"e":36.3,"v":0.5},{"p":"G","c":"chr16","t":"i","s":37.4,"e":38.2,"v":0.2},{"p":"G","c":"chr16","t":"i","s":66.3,"e":67.1,"v":0.5},
{"p":"G","c":"chr17","t":"i","s":6.3,"e":7.1,"v":0.2},{"p":"G","c":"chr17","t":"i","s":16.8,"e":18.3,"v":0.5},{"p":"G","c":"chr17","t":"i","s":21.6,"e":22.4,"v":0.5},{"p":"G","c":"chr17","t":"i","s":26.4,"e":27.2,"v":0.2},{"p":"G","c":"chr17","t":"i","s":30.6,"e":31.4,"v":0.3},{"p":"G","c":"chr17","t":"i","s":35.9,"e":36.7,"v":0.2},{"p":"G","c":"chr17","t":"i","s":45.3,"e":46.1,"v":0.9},{"p":"G","c":"chr17","t":"i","s":58.8,"e":60.3,"v":0.3},{"p":"G","c":"chr17","t":"i","s":75.6,"e":76.4,"v":0.2},
{"p":"G","c":"chr18","t":"i","s":0,"e":14.2,"v":0.75},
{"p":"G","c":"chr19","t":"i","s":4.8,"e":5.6,"v":0.7},{"p":"G","c":"chr19","t":"i","s":24.3,"e":25.1,"v":0.6},{"p":"G","c":"chr19","t":"i","s":26.9,"e":27.7,"v":0.3},{"p":"G","c":"chr19","t":"i","s":36.7,"e":39.7,"v":0.3},{"p":"G","c":"chr19","t":"i","s":48.6,"e":49.4,"v":0.2},
{"p":"G","c":"chr20","t":"i","s":0,"e":0.6,"v":0.7},{"p":"G","c":"chr20","t":"i","s":30.6,"e":31.4,"v":0.8},{"p":"G","c":"chr20","t":"i","s":47.1,"e":47.9,"v":0.3},{"p":"G","c":"chr20","t":"i","s":53.1,"e":53.9,"v":0.2},
{"p":"G","c":"chr21","t":"i","s":10.1,"e":10.9,"v":0.4},
{"p":"G","c":"chr22","t":"i","s":20.1,"e":20.9,"v":0.3},{"p":"G","c":"chr22","t":"i","s":22.8,"e":24.3,"v":0.2},{"p":"G","c":"chr22","t":"i","s":30.6,"e":31.4,"v":0.3},{"p":"G","c":"chr22","t":"i","s":48.6,"e":49.4,"v":0.8},
{"p":"G","c":"chrX","t":"i","s":2.9,"e":3.7,"v":0.5},{"p":"G","c":"chrX","t":"i","s":19.1,"e":19.9,"v":0.9},{"p":"G","c":"chrX","t":"i","s":51.6,"e":52.4,"v":0.2},{"p":"G","c":"chrX","t":"i","s":119.8,"e":120.6,"v":0.3},{"p":"G","c":"chrX","t":"i","s":135.6,"e":136.4,"v":0.3},{"p":"G","c":"chrX","t":"i","s":139,"e":139.8,"v":0.6},{"p":"G","c":"chrX","t":"i","s":141.1,"e":141.9,"v":0.6},{"p":"G","c":"chrX","t":"i","s":149.8,"e":150.6,"v":0.3},

{"p":"O","c":"chr1","t":"r","s":0,"e":124.5,"v":-0.9},{"p":"O","c":"chr1","t":"r","s":143,"e":248.9,"v":-0.9},
{"p":"O","c":"chr2","t":"r","s":0,"e":91,"v":-0.9},{"p":"O","c":"chr2","t":"r","s":94.5,"e":95,"v":-0.9},{"p":"O","c":"chr2","t":"r","s":131.1,"e":242.2,"v":-0.9},
{"p":"O","c":"chr3","t":"r","s":13.5,"e":15.6,"v":-0.9},{"p":"O","c":"chr3","t":"r","s":76.7,"e":90.5,"v":-0.9},{"p":"O","c":"chr3","t":"r","s":131.1,"e":198.3,"v":-0.9},
{"p":"O","c":"chr4","t":"r","s":0,"e":4.8,"v":-0.9},{"p":"O","c":"chr4","t":"r","s":9.7,"e":49.5,"v":-0.9},{"p":"O","c":"chr4","t":"r","s":51.3,"e":52,"v":-0.9},{"p":"O","c":"chr4","t":"r","s":70,"e":179.4,"v":-0.9},{"p":"O","c":"chr4","t":"r","s":181.2,"e":190.2,"v":-0.9},
{"p":"O","c":"chr5","t":"r","s":0,"e":46.8,"v":-0.9},{"p":"O","c":"chr5","t":"r","s":49.8,"e":176.7,"v":-0.9},{"p":"O","c":"chr5","t":"r","s":178.4,"e":181.5,"v":-0.9},
{"p":"O","c":"chr6","t":"r","s":0,"e":58.8,"v":-0.9},{"p":"O","c":"chr6","t":"r","s":60.5,"e":170.8,"v":-0.9},
{"p":"O","c":"chr7","t":"r","s":0,"e":7,"v":-0.9},{"p":"O","c":"chr7","t":"r","s":62,"e":73.7,"v":-0.9},{"p":"O","c":"chr7","t":"r","s":98.8,"e":159.3,"v":-0.9},
{"p":"O","c":"chr8","t":"r","s":0,"e":8.5,"v":-0.9},{"p":"O","c":"chr8","t":"r","s":13.3,"e":44,"v":-0.9},{"p":"O","c":"chr8","t":"r","s":46,"e":145.1,"v":-0.9},
{"p":"O","c":"chr9","t":"r","s":68,"e":88.3,"v":-0.9},{"p":"O","c":"chr9","t":"r","s":94,"e":138.4,"v":-0.9},
{"p":"O","c":"chr10","t":"r","s":0,"e":39.5,"v":-0.9},{"p":"O","c":"chr10","t":"r","s":41.5,"e":51.3,"v":-0.9},{"p":"O","c":"chr10","t":"r","s":88,"e":133.8,"v":-0.9},
{"p":"O","c":"chr11","t":"r","s":0,"e":4,"v":-0.9},{"p":"O","c":"chr11","t":"r","s":49.5,"e":51,"v":-0.9},{"p":"O","c":"chr11","t":"r","s":54.5,"e":57.3,"v":-0.9},{"p":"O","c":"chr11","t":"r","s":72.5,"e":135.1,"v":-0.9},
{"p":"O","c":"chr12","t":"r","s":0,"e":34.8,"v":-0.9},{"p":"O","c":"chr12","t":"r","s":36.8,"e":133.3,"v":-0.9},
{"p":"O","c":"chr13","t":"r","s":16.5,"e":25.8,"v":-0.2},{"p":"O","c":"chr13","t":"r","s":25.8,"e":114.4,"v":-0.9},
{"p":"O","c":"chr14","t":"r","s":16.5,"e":107,"v":-0.9},
{"p":"O","c":"chr15","t":"r","s":17,"e":23.2,"v":-0.2},{"p":"O","c":"chr15","t":"r","s":31,"e":82.7,"v":-0.9},{"p":"O","c":"chr15","t":"r","s":86.2,"e":102,"v":-0.9},
{"p":"O","c":"chr16","t":"r","s":0,"e":11.8,"v":-0.9},{"p":"O","c":"chr16","t":"r","s":19,"e":21,"v":-0.9},{"p":"O","c":"chr16","t":"r","s":24.6,"e":29.2,"v":-0.9},{"p":"O","c":"chr16","t":"r","s":31.3,"e":34.5,"v":-0.9},{"p":"O","c":"chr16","t":"r","s":37,"e":38.5,"v":-0.9},{"p":"O","c":"chr16","t":"r","s":46.5,"e":70.7,"v":-0.9},{"p":"O","c":"chr16","t":"r","s":75.2,"e":90.3,"v":-0.9},
{"p":"O","c":"chr17","t":"r","s":0,"e":16.5,"v":-0.9},{"p":"O","c":"chr17","t":"r","s":19.5,"e":48,"v":-0.9},{"p":"O","c":"chr17","t":"r","s":61,"e":83.3,"v":-0.9},
{"p":"O","c":"chr18","t":"r","s":11.5,"e":13,"v":-0.9},{"p":"O","c":"chr18","t":"r","s":20.5,"e":80.4,"v":-0.9},
{"p":"O","c":"chr19","t":"r","s":0,"e":24.8,"v":-0.9},{"p":"O","c":"chr19","t":"r","s":26.8,"e":58.6,"v":-0.9},
{"p":"O","c":"chr20","t":"r","s":6.6,"e":26.3,"v":-0.9},{"p":"O","c":"chr20","t":"r","s":30,"e":64.4,"v":-0.9},
{"p":"O","c":"chr21","t":"r","s":14.5,"e":46.7,"v":-0.9},
{"p":"O","c":"chr22","t":"r","s":11,"e":13,"v":-0.2},{"p":"O","c":"chr22","t":"r","s":16,"e":19.5,"v":-0.9},{"p":"O","c":"chr22","t":"r","s":25.3,"e":50.8,"v":-0.9},
{"p":"O","c":"chrX","t":"r","s":0,"e":58.5,"v":-0.9},{"p":"O","c":"chrX","t":"r","s":61.5,"e":156,"v":-0.9},
{"p":"O","c":"chr1","t":"i","s":13.4,"e":14.2,"v":0.2},{"p":"O","c":"chr1","t":"i","s":17.4,"e":18.2,"v":0.2},{"p":"O","c":"chr1","t":"i","s":21.6,"e":22.4,"v":0.3},{"p":"O","c":"chr1","t":"i","s":66.3,"e":67.1,"v":0.2},{"p":"O","c":"chr1","t":"i","s":108.6,"e":109.4,"v":0.3},{"p":"O","c":"chr1","t":"i","s":125.3,"e":126.1,"v":1.0},{"p":"O","c":"chr1","t":"i","s":144.9,"e":148.7,"v":0.15},{"p":"O","c":"chr1","t":"i","s":159.2,"e":160,"v":0.2},{"p":"O","c":"chr1","t":"i","s":193.8,"e":194.6,"v":0.6},{"p":"O","c":"chr1","t":"i","s":242,"e":242.8,"v":0.2},
{"p":"O","c":"chr2","t":"i","s":71.6,"e":72.4,"v":0.2},{"p":"O","c":"chr2","t":"i","s":90.1,"e":90.9,"v":0.5},{"p":"O","c":"chr2","t":"i","s":95,"e":131.1,"v":0.6},{"p":"O","c":"chr2","t":"i","s":132.6,"e":133.4,"v":0.3},{"p":"O","c":"chr2","t":"i","s":137.8,"e":138.6,"v":0.2},{"p":"O","c":"chr2","t":"i","s":161.6,"e":162.4,"v":0.1},{"p":"O","c":"chr2","t":"i","s":232.2,"e":233,"v":0.1},
{"p":"O","c":"chr3","t":"i","s":0,"e":13.5,"v":0.8},{"p":"O","c":"chr3","t":"i","s":15.6,"e":76.7,"v":0.75},{"p":"O","c":"chr3","t":"i","s":94.3,"e":131.1,"v":0.75},{"p":"O","c":"chr3","t":"i","s":197,"e":198.3,"v":0.5},
{"p":"O","c":"chr4","t":"i","s":4.8,"e":9.7,"v":0.75},{"p":"O","c":"chr4","t":"i","s":52,"e":70,"v":0.7},{"p":"O","c":"chr4","t":"i","s":175.3,"e":176.1,"v":0.3},{"p":"O","c":"chr4","t":"i","s":179.4,"e":181.2,"v":0.9},
{"p":"O","c":"chr5","t":"i","s":8.4,"e":9.2,"v":0.3},{"p":"O","c":"chr5","t":"i","s":17.9,"e":18.7,"v":0.8},{"p":"O","c":"chr5","t":"i","s":43.1,"e":43.9,"v":0.3},{"p":"O","c":"chr5","t":"i","s":46.8,"e":47.5,"v":0.8},{"p":"O","c":"chr5","t":"i","s":50.1,"e":50.9,"v":0.5},{"p":"O","c":"chr5","t":"i","s":100.3,"e":101.1,"v":0.5},{"p":"O","c":"chr5","t":"i","s":125.1,"e":125.9,"v":0.2},{"p":"O","c":"chr5","t":"i","s":176.7,"e":178.4,"v":0.8},
{"p":"O","c":"chr6","t":"i","s":5.9,"e":6.7,"v":0.2},{"p":"O","c":"chr6","t":"i","s":50.6,"e":51.4,"v":0.3},{"p":"O","c":"chr6","t":"i","s":61.6,"e":62.4,"v":0.8},{"p":"O","c":"chr6","t":"i","s":138.5,"e":139.3,"v":0.2},
{"p":"O","c":"chr7","t":"i","s":2.4,"e":3.2,"v":0.2},{"p":"O","c":"chr7","t":"i","s":7,"e":56.5,"v":0.55},{"p":"O","c":"chr7","t":"i","s":47.9,"e":48.7,"v":0.85},{"p":"O","c":"chr7","t":"i","s":73.7,"e":98.8,"v":0.55},{"p":"O","c":"chr7","t":"i","s":146.4,"e":147.2,"v":0.6},{"p":"O","c":"chr7","t":"i","s":152.3,"e":153.1,"v":0.6},
{"p":"O","c":"chr8","t":"i","s":8.5,"e":13.3,"v":0.75},{"p":"O","c":"chr8","t":"i","s":44.1,"e":44.9,"v":0.6},{"p":"O","c":"chr8","t":"i","s":45.9,"e":46.7,"v":0.9},{"p":"O","c":"chr8","t":"i","s":85.6,"e":86.4,"v":0.9},
{"p":"O","c":"chr9","t":"i","s":0,"e":39.3,"v":0.75},{"p":"O","c":"chr9","t":"i","s":88.3,"e":94,"v":0.8},{"p":"O","c":"chr9","t":"i","s":116.1,"e":116.9,"v":0.2},
{"p":"O","c":"chr10","t":"i","s":18.6,"e":19.4,"v":0.8},{"p":"O","c":"chr10","t":"i","s":26.9,"e":27.7,"v":0.2},{"p":"O","c":"chr10","t":"i","s":39.3,"e":40.1,"v":0.8},{"p":"O","c":"chr10","t":"i","s":42.2,"e":43,"v":0.8},{"p":"O","c":"chr10","t":"i","s":46,"e":47.5,"v":0.6},{"p":"O","c":"chr10","t":"i","s":47.9,"e":48.7,"v":0.8},{"p":"O","c":"chr10","t":"i","s":51.3,"e":88,"v":0.75},{"p":"O","c":"chr10","t":"i","s":104.8,"e":105.6,"v":0.2},{"p":"O","c":"chr10","t":"i","s":110.1,"e":110.9,"v":0.3},
{"p":"O","c":"chr11","t":"i","s":4,"e":49.5,"v":0.65},{"p":"O","c":"chr11","t":"i","s":57.3,"e":72.5,"v":0.65},{"p":"O","c":"chr11","t":"i","s":99.3,"e":100.1,"v":0.3},
{"p":"O","c":"chr12","t":"i","s":8.6,"e":9.4,"v":0.3},{"p":"O","c":"chr12","t":"i","s":34.8,"e":35.6,"v":0.8},{"p":"O","c":"chr12","t":"i","s":37.6,"e":38.6,"v":0.9},{"p":"O","c":"chr12","t":"i","s":47.9,"e":48.7,"v":0.2},{"p":"O","c":"chr12","t":"i","s":97.3,"e":98.1,"v":0.3},
{"p":"O","c":"chr13","t":"i","s":25.4,"e":26.2,"v":0.3},{"p":"O","c":"chr13","t":"i","s":45.6,"e":46.4,"v":0.2},{"p":"O","c":"chr13","t":"i","s":52.8,"e":53.6,"v":0.2},{"p":"O","c":"chr13","t":"i","s":63.3,"e":64.1,"v":0.4},{"p":"O","c":"chr13","t":"i","s":88.3,"e":89.1,"v":0.8},{"p":"O","c":"chr13","t":"i","s":92.4,"e":93.2,"v":0.4},{"p":"O","c":"chr13","t":"i","s":113.6,"e":114.4,"v":0.7},
{"p":"O","c":"chr14","t":"i","s":16.4,"e":17.2,"v":0.3},{"p":"O","c":"chr14","t":"i","s":38.1,"e":38.9,"v":0.2},{"p":"O","c":"chr14","t":"i","s":66.3,"e":67.1,"v":0.5},{"p":"O","c":"chr14","t":"i","s":70.8,"e":71.6,"v":0.3},{"p":"O","c":"chr14","t":"i","s":80.1,"e":80.9,"v":0.4},{"p":"O","c":"chr14","t":"i","s":106,"e":106.8,"v":0.5},
{"p":"O","c":"chr15","t":"i","s":17.1,"e":17.9,"v":0.3},{"p":"O","c":"chr15","t":"i","s":19.8,"e":20.6,"v":0.2},{"p":"O","c":"chr15","t":"i","s":23.2,"e":31,"v":0.75},{"p":"O","c":"chr15","t":"i","s":34.6,"e":35.4,"v":0.7},{"p":"O","c":"chr15","t":"i","s":82.7,"e":86.2,"v":0.8},{"p":"O","c":"chr15","t":"i","s":94.3,"e":95.1,"v":0.2},
{"p":"O","c":"chr16","t":"i","s":2.9,"e":3.7,"v":0.3},{"p":"O","c":"chr16","t":"i","s":4.8,"e":5.6,"v":0.2},{"p":"O","c":"chr16","t":"i","s":11.8,"e":19,"v":0.9},{"p":"O","c":"chr16","t":"i","s":21,"e":24.6,"v":0.9},{"p":"O","c":"chr16","t":"i","s":29.2,"e":31.3,"v":0.7},{"p":"O","c":"chr16","t":"i","s":34.5,"e":37,"v":0.9},{"p":"O","c":"chr16","t":"i","s":46.8,"e":47.6,"v":0.4},{"p":"O","c":"chr16","t":"i","s":53.6,"e":54.4,"v":0.3},{"p":"O","c":"chr16","t":"i","s":70.7,"e":75.2,"v":0.9},
{"p":"O","c":"chr17","t":"i","s":16.5,"e":19.5,"v":0.8},{"p":"O","c":"chr17","t":"i","s":27,"e":27.8,"v":0.3},{"p":"O","c":"chr17","t":"i","s":31.4,"e":32.2,"v":0.8},{"p":"O","c":"chr17","t":"i","s":35.1,"e":35.9,"v":0.6},{"p":"O","c":"chr17","t":"i","s":37,"e":38.5,"v":0.8},{"p":"O","c":"chr17","t":"i","s":41.9,"e":42.7,"v":0.3},{"p":"O","c":"chr17","t":"i","s":45.9,"e":46.7,"v":0.3},{"p":"O","c":"chr17","t":"i","s":48,"e":61,"v":0.8},
{"p":"O","c":"chr18","t":"i","s":0,"e":11.5,"v":0.8},{"p":"O","c":"chr18","t":"i","s":13,"e":15.3,"v":0.8},
{"p":"O","c":"chr19","t":"i","s":7.4,"e":8.2,"v":0.2},{"p":"O","c":"chr19","t":"i","s":15.9,"e":16.7,"v":0.2},{"p":"O","c":"chr19","t":"i","s":21.6,"e":22.4,"v":0.2},{"p":"O","c":"chr19","t":"i","s":27.3,"e":28.1,"v":0.9},{"p":"O","c":"chr19","t":"i","s":39.6,"e":40.4,"v":0.2},{"p":"O","c":"chr19","t":"i","s":44.9,"e":45.7,"v":0.5},
{"p":"O","c":"chr20","t":"i","s":0,"e":6.6,"v":0.8},{"p":"O","c":"chr20","t":"i","s":29.9,"e":30.7,"v":0.5},{"p":"O","c":"chr20","t":"i","s":46.4,"e":47.2,"v":0.3},{"p":"O","c":"chr20","t":"i","s":48.3,"e":49.1,"v":0.6},
{"p":"O","c":"chr22","t":"i","s":19.5,"e":25.3,"v":0.8},
{"p":"O","c":"chrX","t":"i","s":1.4,"e":2.2,"v":0.9},{"p":"O","c":"chrX","t":"i","s":9.9,"e":10.7,"v":0.5},{"p":"O","c":"chrX","t":"i","s":29.9,"e":30.7,"v":0.2},{"p":"O","c":"chrX","t":"i","s":38.1,"e":38.9,"v":0.2},{"p":"O","c":"chrX","t":"i","s":48.6,"e":49.4,"v":0.2},{"p":"O","c":"chrX","t":"i","s":58.8,"e":59.6,"v":0.9},{"p":"O","c":"chrX","t":"i","s":62.8,"e":63.6,"v":0.9},{"p":"O","c":"chrX","t":"i","s":134.3,"e":135.1,"v":0.2},{"p":"O","c":"chrX","t":"i","s":151.2,"e":152,"v":0.3}
]},
"resolve":{"scale":{"color":"independent"},"legend":{"color":"independent"}},
"spacing":9,
"vconcat":[
{"spacing":9,"resolve":{"scale":{"color":"independent"},"legend":{"color":"independent"}},"hconcat":[
{"data":{"name":"d"},"transform":[{"filter":"datum.p=='C'"}],
 "title":{"text":"Chimpanzee","orient":"top","anchor":"start","frame":"group","offset":0,"baseline":"alphabetic","fontSize":28,"fontWeight":"bold","color":"#000","dx":335,"dy":312},
 "facet":{"row":{"field":"c","type":"nominal","sort":["chr1","chr2","chr3","chr4","chr5","chr6","chr7","chr8","chr9","chr10","chr11","chr12","chr13","chr14","chr15","chr16","chr17","chr18","chr19","chr20","chr21","chr22","chrX"],"header":{"labels":false,"title":"Read counts","labelPadding":0,"titlePadding":-6}}},
 "spacing":{"row":4.5},
 "spec":{"width":580,"height":14,"layer":[
  {"transform":[{"aggregate":[{"op":"count","as":"n"}],"groupby":["c"]}],"mark":{"type":"rect","color":"#d9d9d9"},"encoding":{"x":{"datum":-11.7},"x2":{"datum":-0.15},"y":{"datum":-1.1,"axis":null},"y2":{"datum":0.9}}},
  {"transform":[{"aggregate":[{"op":"count","as":"n"}],"groupby":["c"]}],"mark":{"type":"text","fontSize":8,"color":"#1a1a1a","align":"center","baseline":"middle"},"encoding":{"x":{"datum":-5.9},"y":{"datum":-0.1,"axis":null},"text":{"field":"c","type":"nominal"}}},
  {"mark":{"type":"rect"},"encoding":{"x":{"field":"s","type":"quantitative","scale":{"domain":[-11.7,249.1],"nice":false,"zero":false},"axis":{"values":[50,100,150,200],"labelExpr":"format(datum.value*1000000, ',')","title":"Genomic position","titleX":301}},"x2":{"field":"e"},"y":{"field":"v","type":"quantitative","scale":{"domain":[-1.1,0.9],"nice":false,"zero":false},"axis":null},"y2":{"datum":0},
   "color":{"field":"t","type":"nominal","scale":{"domain":["r","i"],"range":["#deebf7","#3182bd"]},"legend":{"orient":"none","legendX":285,"legendY":329,"title":null,"labelExpr":"datum.label=='r' ? 'reference orientation' : 'inverted orientation'"}}}},
  {"transform":[{"filter":"datum.t=='r'"}],"mark":{"type":"rule","color":"#3182bd","strokeWidth":0.7},"encoding":{"x":{"field":"s","type":"quantitative"},"x2":{"field":"e"},"y":{"datum":0,"axis":null}}}
 ]}},
{"data":{"name":"d"},"transform":[{"filter":"datum.p=='B'"}],
 "title":{"text":"Bonobo","orient":"top","anchor":"start","frame":"group","offset":0,"baseline":"alphabetic","fontSize":28,"fontWeight":"bold","color":"#000","dx":355,"dy":312},
 "facet":{"row":{"field":"c","type":"nominal","sort":["chr1","chr2","chr3","chr4","chr5","chr6","chr7","chr8","chr9","chr10","chr11","chr12","chr13","chr14","chr15","chr16","chr17","chr18","chr19","chr20","chr21","chr22","chrX"],"header":{"labels":false,"title":"Read counts","labelPadding":0,"titlePadding":-6}}},
 "spacing":{"row":4.5},
 "spec":{"width":580,"height":14,"layer":[
  {"transform":[{"aggregate":[{"op":"count","as":"n"}],"groupby":["c"]}],"mark":{"type":"rect","color":"#d9d9d9"},"encoding":{"x":{"datum":-11.7},"x2":{"datum":-0.15},"y":{"datum":-1.1,"axis":null},"y2":{"datum":0.9}}},
  {"transform":[{"aggregate":[{"op":"count","as":"n"}],"groupby":["c"]}],"mark":{"type":"text","fontSize":8,"color":"#1a1a1a","align":"center","baseline":"middle"},"encoding":{"x":{"datum":-5.9},"y":{"datum":-0.1,"axis":null},"text":{"field":"c","type":"nominal"}}},
  {"mark":{"type":"rect"},"encoding":{"x":{"field":"s","type":"quantitative","scale":{"domain":[-11.7,249.1],"nice":false,"zero":false},"axis":{"values":[50,100,150,200],"labelExpr":"format(datum.value*1000000, ',')","title":"Genomic position","titleX":301}},"x2":{"field":"e"},"y":{"field":"v","type":"quantitative","scale":{"domain":[-1.1,0.9],"nice":false,"zero":false},"axis":null},"y2":{"datum":0},
   "color":{"field":"t","type":"nominal","scale":{"domain":["r","i"],"range":["#e5f5e0","#31a354"]},"legend":{"orient":"none","legendX":305,"legendY":329,"title":null,"labelExpr":"datum.label=='r' ? 'reference orientation' : 'inverted orientation'"}}}},
  {"transform":[{"filter":"datum.t=='r'"}],"mark":{"type":"rule","color":"#31a354","strokeWidth":0.7},"encoding":{"x":{"field":"s","type":"quantitative"},"x2":{"field":"e"},"y":{"datum":0,"axis":null}}}
 ]}}
]},
{"spacing":9,"resolve":{"scale":{"color":"independent"},"legend":{"color":"independent"}},"hconcat":[
{"data":{"name":"d"},"transform":[{"filter":"datum.p=='G'"}],
 "title":{"text":"Gorilla","orient":"top","anchor":"start","frame":"group","offset":0,"baseline":"alphabetic","fontSize":28,"fontWeight":"bold","color":"#000","dx":335,"dy":318},
 "facet":{"row":{"field":"c","type":"nominal","sort":["chr1","chr2","chr3","chr4","chr5","chr6","chr7","chr8","chr9","chr10","chr11","chr12","chr13","chr14","chr15","chr16","chr17","chr18","chr19","chr20","chr21","chr22","chrX"],"header":{"labels":false,"title":"Read counts","labelPadding":0,"titlePadding":-6}}},
 "spacing":{"row":4.5},
 "spec":{"width":580,"height":14,"layer":[
  {"transform":[{"aggregate":[{"op":"count","as":"n"}],"groupby":["c"]}],"mark":{"type":"rect","color":"#d9d9d9"},"encoding":{"x":{"datum":-11.7},"x2":{"datum":-0.15},"y":{"datum":-1.1,"axis":null},"y2":{"datum":0.9}}},
  {"transform":[{"aggregate":[{"op":"count","as":"n"}],"groupby":["c"]}],"mark":{"type":"text","fontSize":8,"color":"#1a1a1a","align":"center","baseline":"middle"},"encoding":{"x":{"datum":-5.9},"y":{"datum":-0.1,"axis":null},"text":{"field":"c","type":"nominal"}}},
  {"mark":{"type":"rect"},"encoding":{"x":{"field":"s","type":"quantitative","scale":{"domain":[-11.7,249.1],"nice":false,"zero":false},"axis":{"values":[50,100,150,200],"labelExpr":"format(datum.value*1000000, ',')","title":"Genomic position","titleX":301}},"x2":{"field":"e"},"y":{"field":"v","type":"quantitative","scale":{"domain":[-1.1,0.9],"nice":false,"zero":false},"axis":null},"y2":{"datum":0},
   "color":{"field":"t","type":"nominal","scale":{"domain":["r","i"],"range":["#e0ecf4","#8856a7"]},"legend":{"orient":"none","legendX":285,"legendY":336,"title":null,"labelExpr":"datum.label=='r' ? 'reference orientation' : 'inverted orientation'"}}}},
  {"transform":[{"filter":"datum.t=='r'"}],"mark":{"type":"rule","color":"#8856a7","strokeWidth":0.7},"encoding":{"x":{"field":"s","type":"quantitative"},"x2":{"field":"e"},"y":{"datum":0,"axis":null}}}
 ]}},
{"data":{"name":"d"},"transform":[{"filter":"datum.p=='O'"}],
 "title":{"text":"Orangutan","orient":"top","anchor":"start","frame":"group","offset":0,"baseline":"alphabetic","fontSize":28,"fontWeight":"bold","color":"#000","dx":355,"dy":318},
 "facet":{"row":{"field":"c","type":"nominal","sort":["chr1","chr2","chr3","chr4","chr5","chr6","chr7","chr8","chr9","chr10","chr11","chr12","chr13","chr14","chr15","chr16","chr17","chr18","chr19","chr20","chr21","chr22","chrX"],"header":{"labels":false,"title":"Read counts","labelPadding":0,"titlePadding":-6}}},
 "spacing":{"row":4.5},
 "spec":{"width":580,"height":14,"layer":[
  {"transform":[{"aggregate":[{"op":"count","as":"n"}],"groupby":["c"]}],"mark":{"type":"rect","color":"#d9d9d9"},"encoding":{"x":{"datum":-11.7},"x2":{"datum":-0.15},"y":{"datum":-1.1,"axis":null},"y2":{"datum":0.9}}},
  {"transform":[{"aggregate":[{"op":"count","as":"n"}],"groupby":["c"]}],"mark":{"type":"text","fontSize":8,"color":"#1a1a1a","align":"center","baseline":"middle"},"encoding":{"x":{"datum":-5.9},"y":{"datum":-0.1,"axis":null},"text":{"field":"c","type":"nominal"}}},
  {"mark":{"type":"rect"},"encoding":{"x":{"field":"s","type":"quantitative","scale":{"domain":[-11.7,249.1],"nice":false,"zero":false},"axis":{"values":[50,100,150,200],"labelExpr":"format(datum.value*1000000, ',')","title":"Genomic position","titleX":301}},"x2":{"field":"e"},"y":{"field":"v","type":"quantitative","scale":{"domain":[-1.1,0.9],"nice":false,"zero":false},"axis":null},"y2":{"datum":0},
   "color":{"field":"t","type":"nominal","scale":{"domain":["r","i"],"range":["#fee6ce","#e6550d"]},"legend":{"orient":"none","legendX":305,"legendY":336,"title":null,"labelExpr":"datum.label=='r' ? 'reference orientation' : 'inverted orientation'"}}}},
  {"transform":[{"filter":"datum.t=='r'"}],"mark":{"type":"rule","color":"#e6550d","strokeWidth":0.7},"encoding":{"x":{"field":"s","type":"quantitative"},"x2":{"field":"e"},"y":{"datum":0,"axis":null}}}
 ]}}
]}
]
}
